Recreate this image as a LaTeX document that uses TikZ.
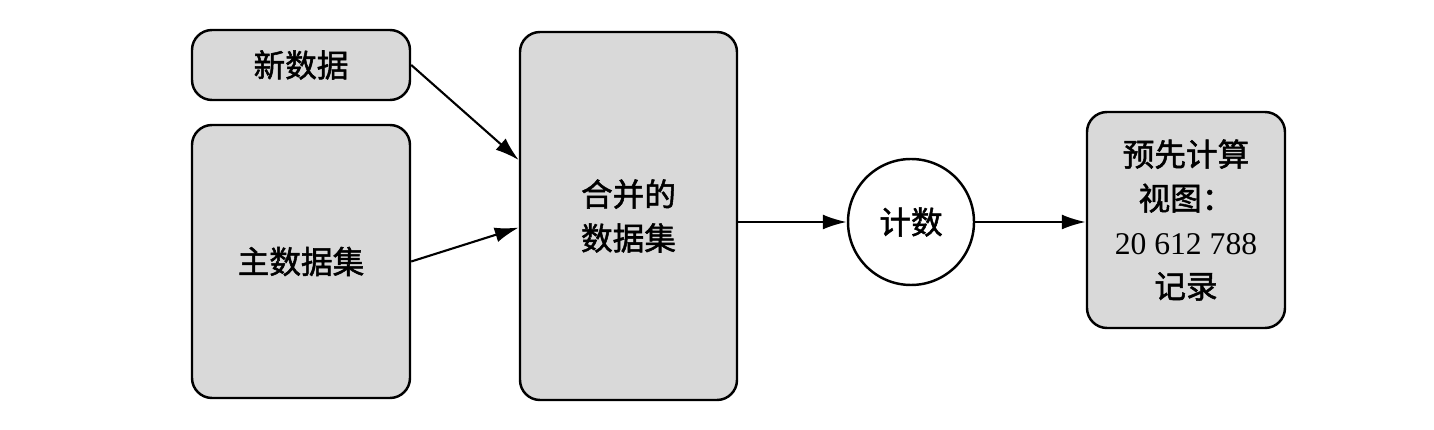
\documentclass[tikz,border=0pt]{standalone}
\usepackage{fontspec}
\setmainfont{Liberation Serif}
\newfontfamily\cjk{Noto Sans CJK SC}[FakeBold=1.6]
\usepackage{xcolor}
\usepackage{tikz}
\usetikzlibrary{arrows.meta, positioning}

\begin{document}
\begin{tikzpicture}[
        box/.style={draw, line width=0.7pt, rounded corners=2mm, fill=black!15,
                    align=center, inner sep=0pt, font=\fontsize{9}{12.5}\selectfont},
        counter/.style={draw, line width=0.7pt, circle, minimum size=1.26cm,
                    inner sep=0pt, font=\fontsize{9}{12.5}\selectfont},
        >={Latex[length=2.4mm,width=1.5mm]}]
    \useasboundingbox (0,0) rectangle (14.34,4.30);
    	\node[box, minimum width=2.18cm, minimum height=0.70cm] (new) at (3.01,3.65) {\cjk 新数据};
    	\node[box, minimum width=2.18cm, minimum height=2.73cm] (master) at (3.01,1.685) {\cjk 主数据集};
    	\node[box, minimum width=2.17cm, minimum height=3.68cm] (merged) at (6.285,2.14) {\cjk 合并的\\\cjk 数据集};
    	\node[counter] (count) at (9.11,2.08) {\cjk 计数};
    	\node[box, minimum width=1.98cm, minimum height=2.16cm] (view) at (11.86,2.10) {\cjk 预先计算\\\cjk 视图：\\20 612 788\\\cjk 记录};
    %
    	\path[->, line width=0.6pt]
      (new.east) edge (merged.153)
      (master.east) edge (merged.186)
      (merged.east |- count) edge (count)
      (count) edge (view.west |- count);
    \end{tikzpicture}
\end{document}
